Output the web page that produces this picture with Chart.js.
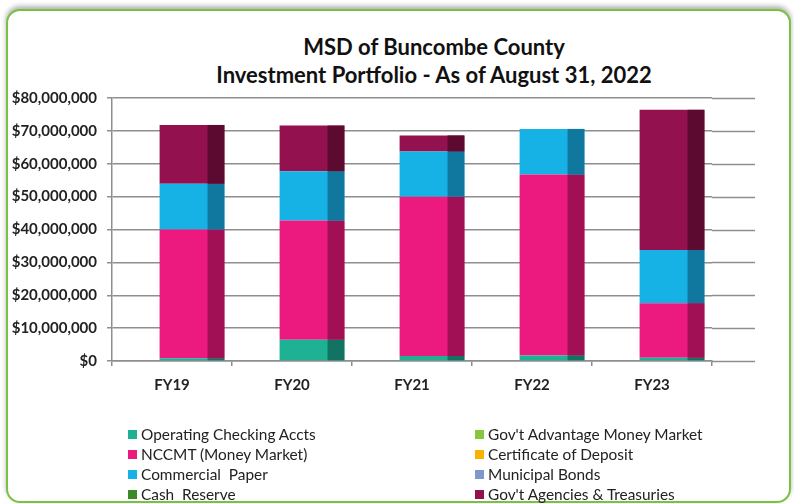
<!DOCTYPE html>
<html>
<head>
<meta charset="utf-8">
<title>MSD of Buncombe County - Investment Portfolio</title>
<script src="https://cdn.jsdelivr.net/npm/chart.js@4.4.1/dist/chart.umd.min.js"></script>
<style>
  body { margin: 0; width: 794px; height: 504px; background: #fff; position: relative; overflow: hidden; font-family: Lato, "Liberation Sans", sans-serif; }
  #frame { position: absolute; left: 6px; top: 9px; width: 781px; height: 490px; border: 2px solid #7ac143; border-radius: 14px; box-shadow: 0 -3px 5px rgba(0,0,0,0.3); background: #fff; }
  #chart { position: absolute; left: 0; top: 0; }
  #title { position: absolute; left: 113px; width: 642px; top: 33px; text-align: center; font-weight: bold; font-size: 22px; line-height: 28px; color: #111; }
  #legend { position: absolute; left: 128px; top: 424px; display: grid; grid-template-columns: 347px auto; grid-template-rows: repeat(4, 20px); grid-auto-flow: column; font-size: 15.4px; color: #222; }
  #legend .item { display: flex; align-items: center; line-height: 20px; white-space: pre; }
  #legend .box { width: 9px; height: 9px; margin-right: 4px; }
</style>
</head>
<body>
<div id="frame"></div>
<div id="title">MSD of Buncombe County<br>Investment Portfolio - As of August 31, 2022</div>
<canvas id="chart" width="794" height="504"></canvas>
<div id="legend"></div>
<script>
// ----- DATA -----
const categories = ["FY19", "FY20", "FY21", "FY22", "FY23"];

const operatingChecking = [800000, 6500000, 1500000, 1700000, 1000000];
const nccmt = [39200000, 36200000, 48500000, 55000000, 16600000];
const commercialPaper = [13900000, 15000000, 13700000, 13900000, 16200000];
const cashReserve = [0, 0, 0, 0, 0];
const govAdvantage = [0, 0, 0, 0, 0];
const certificateOfDeposit = [0, 0, 0, 0, 0];
const municipalBonds = [0, 0, 0, 0, 0];
const govAgencies = [17900000, 13900000, 4900000, 0, 42600000];

const yTicks = [0, 10000000, 20000000, 30000000, 40000000, 50000000, 60000000, 70000000, 80000000];

// ----- STYLE -----
const series = [
  { label: "Operating Checking Accts", data: operatingChecking, color: "#1fb193", side: "#127363" },
  { label: "NCCMT (Money Market)", data: nccmt, color: "#ec1a7f", side: "#a10f55" },
  { label: "Commercial  Paper", data: commercialPaper, color: "#16b2e6", side: "#10789e" },
  { label: "Cash  Reserve", data: cashReserve, color: "#3a8a27", side: "#25601a" },
  { label: "Gov't Advantage Money Market", data: govAdvantage, color: "#86c73c", side: "#5d8c29" },
  { label: "Certificate of Deposit", data: certificateOfDeposit, color: "#f7b300", side: "#b07f00" },
  { label: "Municipal Bonds", data: municipalBonds, color: "#7f97cc", side: "#5a6b91" },
  { label: "Gov't Agencies & Treasuries", data: govAgencies, color: "#93114f", side: "#5c0a30" }
];

const gridColor = "#8e8e8e";
const SHIFT = 20;   // 3D depth: bars sit right of the category centre
const EXTRA = 43;   // back wall extends past the last category
const SIDE = 0.26;  // share of bar width shown as the dark side face

const depth = {
  id: "depth",
  beforeDatasetsDraw(chart) {
    const { ctx, chartArea, scales: { y } } = chart;
    ctx.save();
    ctx.strokeStyle = gridColor;
    ctx.lineWidth = 1.5;
    y.ticks.forEach(t => {
      const py = Math.round(y.getPixelForValue(t.value)) + 0.5;
      ctx.beginPath();
      ctx.moveTo(chartArea.right, py);
      ctx.lineTo(chartArea.right + EXTRA, py);
      ctx.stroke();
    });
    ctx.restore();
    ctx.save();
    ctx.translate(SHIFT, 0);
  },
  afterDatasetsDraw(chart) {
    const { ctx } = chart;
    chart.data.datasets.forEach((ds, i) => {
      const meta = chart.getDatasetMeta(i);
      meta.data.forEach(bar => {
        const h = bar.base - bar.y;
        if (h <= 0) return;
        const w = bar.width * SIDE;
        ctx.fillStyle = series[i].side;
        ctx.fillRect(bar.x + bar.width / 2 - w, bar.y, w, h);
      });
    });
    ctx.restore();
  }
};

const money = v => "$" + Number(v).toLocaleString("en-US");

const chart = new Chart(document.getElementById("chart"), {
  type: "bar",
  data: {
    labels: categories,
    datasets: series.map(s => ({
      label: s.label,
      data: s.data,
      backgroundColor: s.color,
      borderWidth: 0,
      barPercentage: 1,
      categoryPercentage: 0.54
    }))
  },
  options: {
    responsive: false,
    devicePixelRatio: 1,
    animation: false,
    layout: { padding: { left: 0, right: 82, top: 98, bottom: 103 } },
    plugins: {
      legend: { display: false },
      title: { display: false },
      tooltip: { enabled: false }
    },
    scales: {
      x: {
        stacked: true,
        afterFit: s => { s.height = 40; },
        grid: { display: true, drawOnChartArea: false, offset: true, color: gridColor, lineWidth: 1.5, tickLength: 5 },
        border: { color: gridColor, width: 1.5 },
        ticks: { padding: 10, color: "#222", font: { family: "Lato", weight: "bold", size: 15 } }
      },
      y: {
        stacked: true,
        min: 0,
        max: 80000000,
        afterFit: s => { s.width = 112; },
        afterBuildTicks: s => { s.ticks = yTicks.map(v => ({ value: v })); },
        grid: { color: gridColor, lineWidth: 1.5, tickLength: 5 },
        border: { color: gridColor, width: 1.5 },
        ticks: { padding: 10, color: "#222", callback: money, font: { family: "Lato", weight: "bold", size: 15 } }
      }
    }
  },
  plugins: [depth]
});

// ----- LEGEND (two columns, filled top to bottom) -----
const legendEl = document.getElementById("legend");
chart.data.datasets.forEach(ds => {
  const item = document.createElement("div");
  item.className = "item";
  const box = document.createElement("span");
  box.className = "box";
  box.style.background = ds.backgroundColor;
  const text = document.createElement("span");
  text.textContent = ds.label;
  item.appendChild(box);
  item.appendChild(text);
  legendEl.appendChild(item);
});
</script>
</body>
</html>
